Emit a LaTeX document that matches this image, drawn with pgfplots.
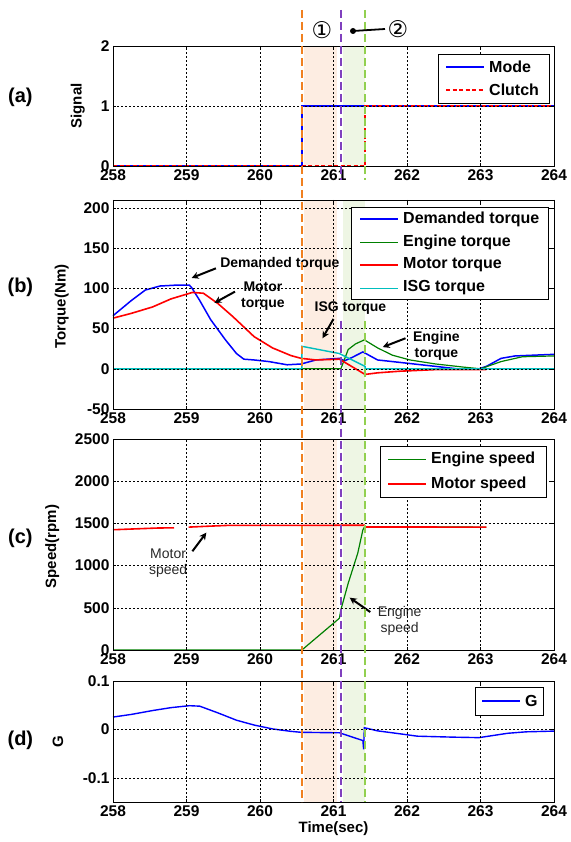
\documentclass[border=0pt]{standalone}
\usepackage{fontspec}
\setmainfont{Liberation Sans}
\newfontfamily\dejavu{DejaVu Sans}
\usepackage{pgfplots}
\pgfplotsset{compat=1.18}
\usetikzlibrary{arrows.meta}

\definecolor{mblue}{RGB}{0,0,255}
\definecolor{mred}{RGB}{255,0,0}
\definecolor{mgreen}{RGB}{0,128,0}
\definecolor{mcyan}{RGB}{0,190,190}
\definecolor{lineO}{RGB}{240,128,32}
\definecolor{lineP}{RGB}{128,64,190}
\definecolor{lineG}{RGB}{146,208,80}
\definecolor{shadeO}{RGB}{253,237,226}
\definecolor{shadeG}{RGB}{238,246,228}
\definecolor{annot}{RGB}{40,40,40}

\pgfplotsset{
  panel/.style={
    scale only axis, width=441pt, anchor=north west,
    xmin=258, xmax=264, xtick={258,...,264},
    grid=major, major grid style={black, line width=0.4pt, dash pattern=on 2pt off 2pt},
    axis on top,
    axis line style={black, line width=0.8pt},
    tick style={black, line width=0.5pt}, major tick length=3pt,
    tick label style={font=\fontsize{15.5}{15.5}\selectfont\bfseries},
    /pgf/number format/assume math mode=true,
    /pgf/number format/1000 sep={},
    label style={font=\fontsize{15}{15}\selectfont\bfseries},
    clip=false, scaled y ticks=false,
  },
}
\tikzset{
  plab/.style={font=\fontsize{20}{20}\selectfont\bfseries},
  arr/.style={-{Stealth[length=7pt,width=7pt]}, line width=2pt, black},
  btxt/.style={font=\fontsize{14}{16}\selectfont\bfseries, align=center},
  ctxt/.style={font=\fontsize{14}{16}\selectfont, align=center, text=annot},
  lgbox/.style={draw=black, fill=white, line width=0.8pt},
  lgtxt/.style={font=\fontsize{16}{16}\selectfont\bfseries, anchor=west, inner sep=0pt},
}

\begin{document}
\begin{tikzpicture}
\path[use as bounding box] (0pt,0pt) rectangle (570pt,-842pt);

% (a) mode and clutch
\begin{axis}[panel, at={(113pt,-46pt)}, height=120pt,
  ymin=0, ymax=2, ytick={0,1,2}, ylabel={Signal},
  ylabel style={at={(axis description cs:-0.08,0.5)}, anchor=center}]
  \fill[shadeO] (axis cs:260.6,0) rectangle (axis cs:261.05,2);
  \fill[shadeG] (axis cs:261.13,0) rectangle (axis cs:261.43,2);
  \addplot[mblue, line width=1.4pt] coordinates {(258,0) (260.57,0) (260.57,1) (264,1)};
  \addplot[mred, line width=1.4pt, dash pattern=on 4pt off 2.5pt] coordinates {(258,0) (261.43,0) (261.43,1) (264,1)};
  \node[plab] at (axis description cs:-0.21,0.57) {(a)};
  \coordinate (t1) at (axis cs:260.57,0);
  \coordinate (t2) at (axis cs:261.10,0);
  \coordinate (t3) at (axis cs:261.43,0);
\end{axis}

% (b) torques
\begin{axis}[panel, at={(113pt,-200pt)}, height=209pt,
  ymin=-50, ymax=210, ytick={-50,0,50,100,150,200}, ylabel={Torque(Nm)},
  ylabel style={at={(axis description cs:-0.116,0.49)}, anchor=center}]
  \fill[shadeO] (axis cs:260.6,-50) rectangle (axis cs:261.05,210);
  \fill[shadeG] (axis cs:261.13,-50) rectangle (axis cs:261.43,210);
  \addplot[mblue, line width=1.5pt] coordinates {
    (258,66) (258.25,85) (258.44,98) (258.64,103) (258.84,104) (259.04,104) (259.07,101)
    (259.18,85) (259.33,61) (259.53,36) (259.68,19) (259.78,12) (259.92,11) (260.12,9)
    (260.37,5) (260.56,6) (260.76,11) (261.08,13) (261.15,10) (261.25,14) (261.40,21)
    (261.6,11) (261.9,8) (262.39,3) (262.68,0) (262.98,0) (263.08,3) (263.28,13)
    (263.47,16) (264,18)};
  \addplot[mgreen, line width=1.2pt] coordinates {
    (258,0) (260.57,0) (261.1,0) (261.2,24) (261.30,31) (261.42,36) (261.6,26) (261.8,17)
    (262.04,11) (262.39,6) (262.78,2) (263,0) (263.28,9) (263.57,15) (264,16)};
  \addplot[mred, line width=1.6pt] coordinates {
    (258,63) (258.25,69) (258.54,77) (258.79,87) (259.08,95) (259.23,94) (259.43,81)
    (259.63,65) (259.92,40) (260.17,26) (260.42,16.5) (260.56,13) (260.76,11) (261.08,12)
    (261.43,-7) (261.6,-5) (261.9,-3) (262.39,-1) (263.08,-1)};
  \addplot[mcyan, line width=1.4pt] coordinates {
    (258,0) (260.57,0) (260.57,28) (261.08,19) (261.43,3) (261.43,0) (264,0)};
  \node[plab] at (axis description cs:-0.21,0.58) {(b)};
  \node[btxt] at (axis cs:260.27,130) {Demanded torque};
  \draw[arr] (axis cs:259.40,125) -- (axis cs:259.07,113);
  \node[btxt] at (axis cs:260.04,90) {Motor\\torque};
  \draw[arr] (axis cs:259.66,96) -- (axis cs:259.38,82);
  \node[btxt] at (axis cs:261.23,75) {ISG torque};
  \draw[arr] (axis cs:261.0,62) -- (axis cs:260.85,38);
  \node[btxt] at (axis cs:262.4,28) {Engine\\torque};
  \draw[arr] (axis cs:261.98,38) -- (axis cs:261.67,27);
  \coordinate (bmid) at (axis cs:261,60);
\end{axis}

% (c) speeds
\begin{axis}[panel, at={(113pt,-439pt)}, height=211pt,
  ymin=0, ymax=2500, ytick={0,500,...,2500}, ylabel={Speed(rpm)},
  ylabel style={at={(axis description cs:-0.138,0.49)}, anchor=center}]
  \fill[shadeO] (axis cs:260.6,0) rectangle (axis cs:261.05,2500);
  \fill[shadeG] (axis cs:261.13,0) rectangle (axis cs:261.43,2500);
  \addplot[mgreen, line width=1.2pt] coordinates {
    (258,0) (260.57,0) (261.08,376) (261.1,475) (261.2,791) (261.33,1147) (261.40,1424)
    (261.43,1470) (261.44,1458) (263.08,1456)};
  \addplot[mred, line width=1.6pt] coordinates {
    (259.03,1456) (259.25,1465) (259.55,1476) (261.42,1478) (261.44,1458) (263.08,1456)};
  \addplot[mred, line width=1.6pt] coordinates {
    (258,1425) (258.3,1435) (258.6,1445) (258.83,1448)};
  \node[plab] at (axis description cs:-0.21,0.53) {(c)};
  \node[ctxt] at (axis cs:258.75,1030) {Motor\\speed};
  \draw[arr] (axis cs:259.08,1170) -- (axis cs:259.27,1390);
  \node[ctxt] at (axis cs:261.9,350) {Engine\\speed};
  \draw[arr] (axis cs:261.5,450) -- (axis cs:261.22,620);
\end{axis}

% (d) G
\begin{axis}[panel, at={(113pt,-681pt)}, height=121pt,
  ymin=-0.15, ymax=0.1, ytick={-0.1,0,0.1}, ylabel={G}, xlabel={Time(sec)},
  ylabel style={at={(axis description cs:-0.125,0.5)}, anchor=center},
  xlabel style={yshift=2pt}]
  \fill[shadeO] (axis cs:260.6,-0.15) rectangle (axis cs:261.05,0.1);
  \fill[shadeG] (axis cs:261.13,-0.15) rectangle (axis cs:261.43,0.1);
  \addplot[mblue, line width=1.4pt] coordinates {
    (258,0.0255) (258.25,0.031) (258.54,0.039) (258.79,0.045) (259.04,0.049) (259.18,0.048)
    (259.43,0.034) (259.68,0.019) (259.92,0.009) (260.17,0.001) (260.42,-0.004)
    (260.56,-0.006) (261.08,-0.007) (261.40,-0.023) (261.41,-0.041) (261.42,0.0035)
    (261.6,-0.003) (261.9,-0.009) (262.14,-0.014) (262.63,-0.016) (262.98,-0.017)
    (263.37,-0.008) (263.62,-0.005) (264,-0.0035)};
  \node[plab] at (axis description cs:-0.21,0.51) {(d)};
\end{axis}

% phase boundaries
\draw[lineO, line width=2pt, dash pattern=on 8pt off 4pt] (t1 |- 0,-10pt) -- (t1 |- 0,-802pt);
\draw[lineP, line width=2pt, dash pattern=on 8pt off 4pt] (t2 |- 0,-10pt) -- (t2 |- 0,-180pt);
\draw[lineP, line width=2pt, dash pattern=on 8pt off 4pt] (t2 |- bmid) -- (t2 |- 0,-802pt);
\draw[lineG, line width=2pt, dash pattern=on 8pt off 4pt] (t3 |- 0,-10pt) -- (t3 |- 0,-180pt);
\draw[lineG, line width=2pt, dash pattern=on 8pt off 4pt] (t3 |- bmid) -- (t3 |- 0,-802pt);

% legends
\draw[lgbox] (438pt,-54pt) rectangle (549pt,-103pt);
\draw[mblue, line width=1.4pt] (446pt,-67pt) -- (484pt,-67pt);
\node[lgtxt] at (489pt,-67pt) {Mode};
\draw[mred, line width=1.4pt, dash pattern=on 4pt off 2.5pt] (446pt,-90pt) -- (484pt,-90pt);
\node[lgtxt] at (489pt,-90pt) {Clutch};

\draw[lgbox] (351pt,-207pt) rectangle (548pt,-299pt);
\draw[mblue, line width=1.5pt] (360pt,-219pt) -- (398pt,-219pt);
\node[lgtxt] at (403pt,-219pt) {Demanded torque};
\draw[mgreen, line width=0.9pt] (360pt,-242pt) -- (398pt,-242pt);
\node[lgtxt] at (403pt,-242pt) {Engine torque};
\draw[mred, line width=1.6pt] (360pt,-265pt) -- (398pt,-265pt);
\node[lgtxt] at (403pt,-265pt) {Motor torque};
\draw[mcyan, line width=0.9pt] (360pt,-288pt) -- (398pt,-288pt);
\node[lgtxt] at (403pt,-288pt) {ISG torque};

\draw[lgbox] (380pt,-446pt) rectangle (546pt,-497pt);
\draw[mgreen, line width=0.9pt] (388pt,-459pt) -- (426pt,-459pt);
\node[lgtxt] at (431pt,-459pt) {Engine speed};
\draw[mred, line width=1.6pt] (388pt,-484pt) -- (426pt,-484pt);
\node[lgtxt] at (431pt,-484pt) {Motor speed};

\draw[lgbox] (475pt,-687pt) rectangle (543pt,-715pt);
\draw[mblue, line width=1.4pt] (482pt,-701pt) -- (520pt,-701pt);
\node[lgtxt] at (525pt,-701pt) {G};

\node[font=\dejavu\fontsize{23}{23}\selectfont] at (322pt,-30pt) {①};
\node[font=\dejavu\fontsize{23}{23}\selectfont] at (398pt,-29pt) {②};
\draw[line width=1.8pt] (385pt,-29pt) -- (353pt,-31pt);
\fill (353pt,-31pt) circle (3pt);
\end{tikzpicture}
\end{document}
